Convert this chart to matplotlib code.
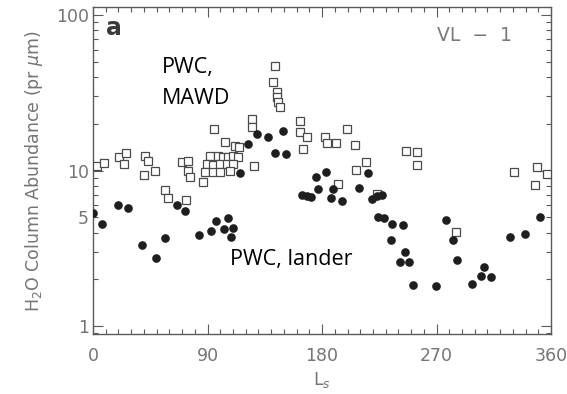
import matplotlib
matplotlib.use('Agg')
from matplotlib import pyplot as plt
from matplotlib.ticker import FixedLocator, MultipleLocator, FuncFormatter, LogLocator
import numpy as np

# MAWD (orbiter) column water, open squares
ls_mawd = [3.5, 8.6, 20.8, 26.3, 24.4, 40.9, 43.2, 48.7, 40.1, 56.6,
           59.0, 73.1, 70.3, 74.7, 74.7, 76.2, 86.7, 90.4, 92.0, 94.7,
           103.8, 111.6, 115.0, 98.5, 102.4, 106.3, 110.3, 114.2, 89.4, 94.6,
           99.8, 105.1, 110.3, 88.0, 94.6, 99.8, 107.7, 126.2, 125.0, 125.0,
           143.1, 141.3, 144.4, 144.4, 145.0, 147.0, 162.7, 162.7, 168.2, 164.8,
           182.4, 183.9, 190.6, 199.4, 205.9, 214.6, 206.3, 192.8, 223.5, 245.6,
           254.4, 254.4, 285.3, 331.1, 348.8, 356.6, 347.2]
pwc_mawd = [10.7, 11.25, 12.3, 12.9, 11.1, 12.5, 11.6, 10.0, 9.43, 7.55,
            6.67, 6.52, 11.3, 11.6, 10.0, 9.08, 8.5, 10.5, 12.5, 18.6,
            15.2, 14.5, 14.2, 12.5, 12.2, 12.2, 12.5, 12.2, 11.0, 10.8,
            11.0, 11.0, 11.0, 9.75, 9.75, 9.75, 9.9, 10.7, 21.4, 18.95,
            46.8, 37.4, 32.1, 29.8, 27.7, 25.5, 20.9, 17.6, 16.4, 13.8,
            16.4, 15.1, 15.0, 18.6, 14.7, 11.3, 10.1, 8.25, 7.09, 13.4,
            13.1, 10.8, 4.06, 9.75, 10.5, 9.5, 8.05]

# Viking Lander 1 column water, filled circles
ls_lander = [0.4, 7.3, 19.4, 27.3, 38.3, 49.3, 56.6, 66.3, 72.6, 83.3,
             92.8, 96.4, 103.0, 105.9, 110.3, 108.2, 115.2, 121.8, 128.5, 137.3,
             149.1, 143.1, 151.3, 164.0, 168.0, 171.4, 175.0, 183.1, 177.1, 188.6,
             187.1, 196.0, 209.3, 216.4, 219.1, 223.2, 226.9, 224.0, 228.3, 234.8,
             243.7, 234.2, 245.2, 241.3, 248.4, 251.4, 269.4, 277.3, 283.2, 286.1,
             297.7, 307.2, 305.0, 312.8, 327.8, 339.6, 351.4]
pwc_lander = [5.38, 4.55, 6.05, 5.77, 3.31, 2.76, 3.68, 6.03, 5.54, 3.83,
              4.12, 4.73, 4.23, 4.95, 4.29, 3.74, 9.64, 14.9, 17.2, 16.4,
              18.0, 12.9, 12.7, 6.99, 6.91, 6.74, 9.15, 9.85, 7.67, 7.67,
              6.64, 6.36, 7.70, 9.61, 6.59, 6.91, 6.97, 5.00, 4.96, 4.51,
              4.44, 3.60, 2.99, 2.58, 2.59, 1.85, 1.80, 4.83, 3.56, 2.65,
              1.86, 2.39, 2.09, 2.08, 3.76, 3.93, 5.07]

x_ticks = [0, 90, 180, 270, 360]
y_ticks = [1, 10, 100]

gray = '#5a5a5a'
label_gray = '#747474'

fig = plt.figure(figsize=(5.67, 3.94), dpi=100)
ax = fig.add_axes([0.164, 0.152, 0.808, 0.830])

ax.plot(ls_mawd, pwc_mawd, ls='none', marker='s', ms=5.2, mfc='white',
        mec='#4a4a4a', mew=0.9, zorder=3)
ax.plot(ls_lander, pwc_lander, ls='none', marker='o', ms=5.2, mfc='#1e1e1e',
        mec='#1e1e1e', zorder=4)

ax.set_yscale('log')
ax.set_xlim(0, 360)
ax.set_ylim(0.889, 112.6)

ax.xaxis.set_major_locator(FixedLocator(x_ticks))
ax.xaxis.set_minor_locator(MultipleLocator(10))
ax.yaxis.set_major_locator(FixedLocator(y_ticks))
ax.yaxis.set_minor_locator(LogLocator(base=10, subs=np.arange(2, 10)))
ax.yaxis.set_major_formatter(FuncFormatter(lambda v, _: '%d' % v))
ax.yaxis.set_minor_formatter(FuncFormatter(lambda v, _: '5' if abs(v - 5) < 1e-6 else ''))

ax.tick_params(which='both', direction='in', top=True, right=True,
               color=gray, width=0.8, labelcolor=label_gray, labelsize=12.5)
ax.tick_params(which='major', length=7)
ax.tick_params(which='minor', length=3.5)
ax.tick_params(axis='x', which='both', pad=9)
ax.tick_params(axis='y', which='both', pad=3)
for s in ax.spines.values():
    s.set_color(gray)
    s.set_linewidth(1.0)

ax.set_ylabel('H$_2$O Column Abundance (pr $\\mu$m)', color=label_gray,
              fontsize=12.5, labelpad=8)
ax.set_xlabel('L$_s$', color=label_gray, fontsize=12.5, labelpad=4)

ax.text(0.028, 0.914, 'a', transform=ax.transAxes, fontsize=17,
        fontweight='bold', color='#3a3a3a', va='baseline')
ax.text(0.751, 0.896, 'VL  \u2212  1', transform=ax.transAxes, fontsize=13.5,
        color='#7a7a7a', va='baseline')

ann_font = 'Open Sans'
ax.text(0.151, 0.798, 'PWC,', transform=ax.transAxes, fontsize=15.5,
        family=ann_font, color='black', va='baseline')
ax.text(0.151, 0.703, 'MAWD', transform=ax.transAxes, fontsize=15.5,
        family=ann_font, color='black', va='baseline')
ax.text(0.299, 0.211, 'PWC, lander', transform=ax.transAxes, fontsize=15.5,
        family=ann_font, color='black', va='baseline')

fig.savefig('out.png', dpi=100)
